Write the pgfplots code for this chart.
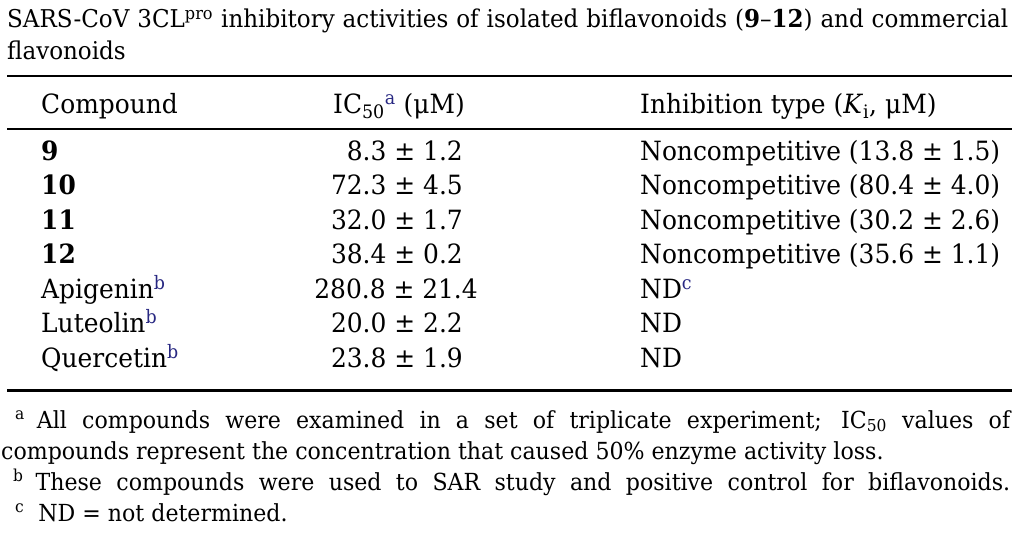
\documentclass[border=0pt]{standalone}
\usepackage{fontspec}
\setmainfont[FakeStretch=0.94]{DejaVu Serif}
\usepackage{pgfplots}
\pgfplotsset{compat=1.18}
\definecolor{supblue}{RGB}{40,40,130}
\newcommand{\supb}[1]{\textsuperscript{\color{supblue}#1}}
\newcommand{\bodyfont}{\fontsize{26.5bp}{30bp}\selectfont}
\newcommand{\titlefont}{\fontsize{24.5bp}{28bp}\selectfont}
\newcommand{\notefont}{\fontsize{23.5bp}{26bp}\selectfont}
\begin{document}
\begin{tikzpicture}
\begin{axis}[width=1019bp,height=541bp,scale only axis,
  xmin=0,xmax=1019,ymin=0,ymax=541,y dir=reverse,
  hide axis,clip=false,
  cellL/.style={draw=none,mark=none,nodes near coords,point meta=explicit symbolic,
    every node near coord/.append style={anchor=base west,inner sep=0pt,font=\bodyfont,text=black}},
  cellR/.style={draw=none,mark=none,nodes near coords,point meta=explicit symbolic,
    every node near coord/.append style={anchor=base east,inner sep=0pt,font=\bodyfont,text=black}},
]
\path[use as bounding box] (rel axis cs:0,0) rectangle (rel axis cs:1,1);
% rules
\addplot[black,line width=2.5bp] coordinates {(7,76) (1012,76)};
\addplot[black,line width=2bp] coordinates {(7,129) (1012,129)};
\addplot[black,line width=3bp] coordinates {(7,390) (1012,390)};
% header
\addplot[cellL] coordinates {
  (41,113) [Compound]
  (333,113) [{IC\textsubscript{50}\supb{a} (μM)}]
  (640,113) [{Inhibition type (\textit{K}\textsubscript{i}, μM)}]
};
% compound column
\addplot[cellL] coordinates {
  (41,160) [{\textbf{9}}]
  (41,194.5) [{\textbf{10}}]
  (41,229) [{\textbf{11}}]
  (41,263.5) [{\textbf{12}}]
  (41,298) [{Apigenin\supb{b}}]
  (41,332.5) [{Luteolin\supb{b}}]
  (41,367) [{Quercetin\supb{b}}]
};
% IC50 column
\addplot[cellR] coordinates {
  (463,160) [{8.3 ± 1.2}]
  (463,194.5) [{72.3 ± 4.5}]
  (463,229) [{32.0 ± 1.7}]
  (463,263.5) [{38.4 ± 0.2}]
  (478,298) [{280.8 ± 21.4}]
  (463,332.5) [{20.0 ± 2.2}]
  (463,367) [{23.8 ± 1.9}]
};
% inhibition type column
\addplot[cellL] coordinates {
  (640,160) [{Noncompetitive (13.8 ± 1.5)}]
  (640,194.5) [{Noncompetitive (80.4 ± 4.0)}]
  (640,229) [{Noncompetitive (30.2 ± 2.6)}]
  (640,263.5) [{Noncompetitive (35.6 ± 1.1)}]
  (640,298) [{ND\supb{c}}]
  (640,332.5) [{ND}]
  (640,367) [{ND}]
};
% title
\node[anchor=base west,inner sep=0pt,font=\titlefont] at (axis cs:7,28)
  {\makebox[1001bp][s]{SARS-CoV 3CL\textsuperscript{pro} inhibitory activities of isolated biflavonoids (\textbf{9}–\textbf{12}) and commercial}};
\node[anchor=base west,inner sep=0pt,font=\titlefont] at (axis cs:7,60) {flavonoids};
% footnotes
\node[anchor=base west,inner sep=0pt,font=\notefont] at (axis cs:15,428)
  {\makebox[995bp][s]{\textsuperscript{a}\hspace*{12bp}All compounds were examined in a set of triplicate experiment; IC\textsubscript{50} values of}};
\node[anchor=base west,inner sep=0pt,font=\notefont] at (axis cs:1,459)
  {compounds represent the concentration that caused 50\% enzyme activity loss.};
\node[anchor=base west,inner sep=0pt,font=\notefont] at (axis cs:13,490)
  {\makebox[997bp][s]{\textsuperscript{b}\hspace*{12bp}These compounds were used to SAR study and positive control for biflavonoids.}};
\node[anchor=base west,inner sep=0pt,font=\notefont] at (axis cs:15,521)
  {\textsuperscript{c}\hspace*{14bp}ND = not determined.};
\end{axis}
\end{tikzpicture}
\end{document}
